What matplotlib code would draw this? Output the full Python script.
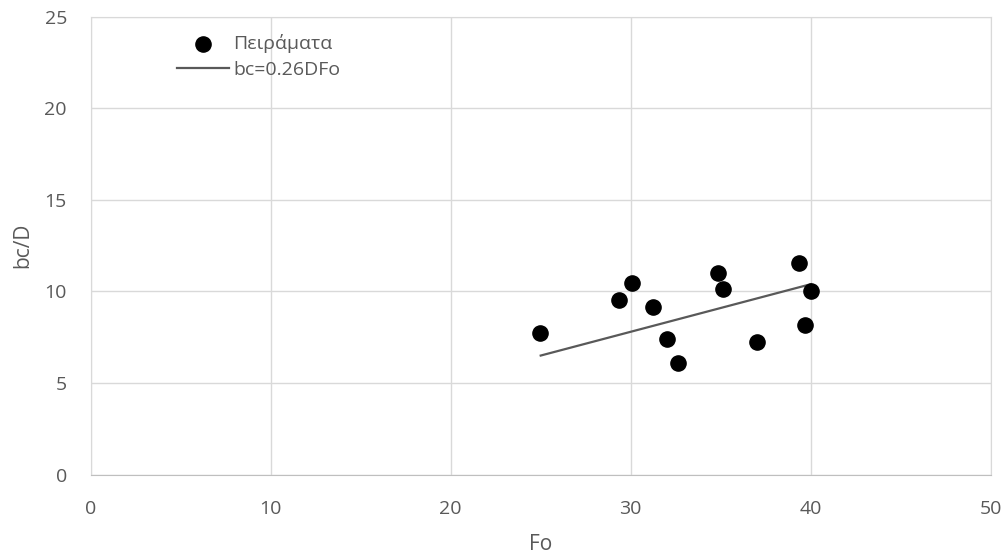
import numpy as np
import matplotlib.pyplot as plt

# experimental points: Fo and bc/D
fo = [24.97, 29.36, 30.08, 31.25, 32.03, 32.6, 34.82, 35.14, 37.03, 39.36, 40.03, 39.7]
bc_d = [7.72, 9.54, 10.45, 9.15, 7.42, 6.08, 10.99, 10.12, 7.26, 11.54, 10.03, 8.17]

# fitted relation bc = 0.26 D Fo
coef = 0.26
fit_fo = np.array([25.0, 40.0])

plt.rcParams['font.family'] = ['Open Sans', 'DejaVu Sans']
grey = '#595959'

fig = plt.figure(figsize=(10.07, 5.58), dpi=100)
ax = fig.add_axes([0.0899, 0.1496, 0.8941, 0.82])

ax.scatter(fo, bc_d, s=120, color='black', zorder=3, label='Πειράματα')
ax.plot(fit_fo, coef * fit_fo, color=grey, lw=1.6, zorder=2, label='bc=0.26DFo')

ax.set_xlim(0, 50)
ax.set_ylim(0, 25)
ax.set_xticks(range(0, 51, 10))
ax.set_yticks(range(0, 26, 5))
ax.grid(True, color='#d9d9d9', lw=1.0)
ax.set_axisbelow(True)
for s in ax.spines.values():
    s.set_color('#d9d9d9')
ax.spines['bottom'].set_color('#bfbfbf')
ax.tick_params(length=0, labelsize=14, labelcolor=grey)
ax.tick_params(axis='x', pad=18)
ax.tick_params(axis='y', pad=17)

ax.set_xlabel('Fo', fontsize=15, color=grey, labelpad=12)
ax.set_ylabel('bc/D', fontsize=15, color=grey, labelpad=8)

leg = ax.legend(loc='upper left', bbox_to_anchor=(0.096, 0.963), frameon=False,
                borderpad=0, borderaxespad=0, fontsize=14, handlelength=2.7,
                handletextpad=0.2, labelspacing=0.4)
for t in leg.get_texts():
    t.set_color(grey)

plt.savefig('out.png', dpi=100)
